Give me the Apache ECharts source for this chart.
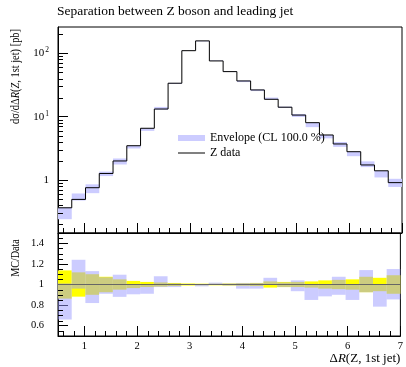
<!DOCTYPE html>
<html>
<head>
<meta charset="utf-8">
<script src="https://cdn.jsdelivr.net/npm/echarts@6/dist/echarts.min.js"></script>
<style>
  html, body { margin: 0; padding: 0; background: #fff; }
  #main { width: 406px; height: 367px; }
</style>
</head>
<body>
<div id="main"></div>
<script>
// bin edges of dR(Z, 1st jet)
const edges = [0.5, 0.76, 1.02, 1.28, 1.54, 1.8, 2.06, 2.32, 2.58, 2.84, 3.1, 3.36, 3.62,
  3.88, 4.14, 4.4, 4.66, 4.92, 5.18, 5.44, 5.7, 5.96, 6.22, 6.48, 6.74, 7.0];
// Z data, d sigma / d dR [pb]
const zData = [0.365, 0.495, 0.757, 1.27, 2.0, 3.48, 6.56, 13.2, 33.7, 110, 157, 75.8, 51.4,
  36.6, 26.4, 18.8, 14.1, 10.6, 8.04, 5.14, 3.71, 2.80, 1.73, 1.40, 0.91];
// relative data uncertainty (yellow band half width)
const dataErr = [0.137, 0.118, 0.10, 0.075, 0.05, 0.035, 0.025, 0.02, 0.015, 0.01, 0.008, 0.008, 0.01,
  0.012, 0.015, 0.03, 0.025, 0.025, 0.03, 0.04, 0.045, 0.05, 0.075, 0.065, 0.09];
// envelope / data
const envLo = [0.66, 0.96, 0.82, 0.91, 0.88, 0.905, 0.91, 0.975, 0.975, 0.995, 0.982, 1.0, 0.99,
  0.96, 0.96, 0.995, 0.975, 0.935, 0.85, 0.885, 0.90, 0.85, 0.925, 0.785, 0.855];
const envHi = [1.01, 1.24, 1.13, 1.07, 1.095, 1.005, 1.0, 1.08, 1.01, 1.005, 1.0, 1.018, 1.01,
  1.015, 1.015, 1.065, 1.02, 1.04, 1.0, 1.0, 1.075, 1.0, 1.14, 1.0, 1.15];

// minor tick positions
const xMinor = [0.6, 0.8, 1.2, 1.4, 1.6, 1.8, 2.2, 2.4, 2.6, 2.8, 3.2, 3.4, 3.6, 3.8,
  4.2, 4.4, 4.6, 4.8, 5.2, 5.4, 5.6, 5.8, 6.2, 6.4, 6.6, 6.8];
const logMinor = [0.2, 0.3, 0.4, 0.5, 0.6, 0.7, 0.8, 0.9, 2, 3, 4, 5, 6, 7, 8, 9,
  20, 30, 40, 50, 60, 70, 80, 90, 200];
const ratioMinor = [0.55, 0.65, 0.7, 0.75, 0.85, 0.9, 0.95, 1.05, 1.1, 1.15, 1.25, 1.3, 1.35, 1.45];

const font = 'Liberation Serif';

const chart = echarts.init(document.getElementById('main'), null, { renderer: 'canvas' });

const zLine = edges.map((e, i) => [e, zData[Math.min(i, zData.length - 1)]]);
const envTop = zData.map((v, i) => [edges[i], edges[i + 1], v * envLo[i], v * envHi[i]]);
const envRatio = zData.map((v, i) => [edges[i], edges[i + 1], envLo[i], envHi[i]]);
const errBand = dataErr.map((e, i) => [edges[i], edges[i + 1], 1 - e, 1 + e]);

function binRect(params, api) {
  const a = api.coord([api.value(0), api.value(3)]);
  const b = api.coord([api.value(1), api.value(2)]);
  return {
    type: 'rect',
    shape: { x: a[0], y: a[1], width: b[0] - a[0], height: b[1] - a[1] },
    style: api.style()
  };
}

function xTick(params, api) {
  const p = api.coord([api.value(0), api.value(1)]);
  const cs = params.coordSys;
  const x = Math.round(p[0]) + 0.5;
  const yb = cs.y + cs.height;
  return { type: 'line', shape: { x1: x, y1: yb, x2: x, y2: yb - 5 }, style: { stroke: '#000', lineWidth: 1 } };
}

function yTick(params, api) {
  const p = api.coord([api.value(0), api.value(1)]);
  const cs = params.coordSys;
  const y = Math.round(p[1]) + 0.5;
  return { type: 'line', shape: { x1: cs.x, y1: y, x2: cs.x + 5, y2: y }, style: { stroke: '#000', lineWidth: 1 } };
}

function isDecade(v) {
  const l = Math.log10(v);
  return Math.abs(l - Math.round(l)) < 1e-6;
}

const tickStyle = { inside: true, length: 10, lineStyle: { color: '#000', width: 1 } };

const option = {
  animation: false,
  backgroundColor: '#fff',
  title: {
    text: 'Separation between Z boson and leading jet',
    left: 52,
    top: -1,
    textStyle: { fontFamily: font, fontSize: 13.5, fontWeight: 'normal', color: '#000' }
  },
  legend: {
    orient: 'vertical',
    left: 173,
    top: 126,
    itemWidth: 27,
    itemHeight: 6,
    itemGap: 1,
    textStyle: { fontFamily: font, fontSize: 12, color: '#000', lineHeight: 14 },
    data: [
      { name: 'Envelope (CL 100.0 %)', icon: 'rect' },
      { name: 'Z data', icon: 'path://M0,0H270V10H0Z' }
    ]
  },
  grid: [
    { left: 58, top: 27, width: 344, height: 206, show: true, borderColor: '#000', borderWidth: 1, backgroundColor: 'transparent' },
    { left: 58, top: 233, width: 344, height: 103, show: true, borderColor: '#000', borderWidth: 1, backgroundColor: 'transparent' }
  ],
  xAxis: [
    {
      gridIndex: 0, type: 'value', min: 0.5, max: 7, splitNumber: 6,
      axisLine: { lineStyle: { color: '#000' } },
      axisTick: tickStyle,
      axisLabel: { show: false },
      splitLine: { show: false }
    },
    {
      gridIndex: 1, type: 'value', min: 0.5, max: 7, splitNumber: 6,
      axisLine: { lineStyle: { color: '#000' } },
      axisTick: tickStyle,
      axisLabel: { fontFamily: font, fontSize: 10.5, color: '#000', margin: 5, showMinLabel: false, showMaxLabel: true },
      splitLine: { show: false },
      name: '{d|Δ}{i|R}{d|(Z, 1st jet)}',
      nameLocation: 'end',
      nameGap: 0,
      nameTextStyle: {
        align: 'right', verticalAlign: 'top', padding: [16, 0, 0, 0],
        rich: {
          d: { fontFamily: font, fontSize: 13, color: '#000' },
          i: { fontFamily: font, fontSize: 13, color: '#000', fontStyle: 'italic' }
        }
      }
    }
  ],
  yAxis: [
    {
      gridIndex: 0, type: 'log', logBase: 10, min: 0.146, max: 260,
      axisLine: { lineStyle: { color: '#000' } },
      axisTick: tickStyle,
      splitLine: { show: false },
      axisLabel: {
        margin: 9,
        showMinLabel: false,
        showMaxLabel: false,
        formatter: function (v) {
          if (!isDecade(v)) return '';
          const k = Math.round(Math.log10(v));
          if (k === 0) return '{n|1}';
          return '{n|10}{s|' + k + '}';
        },
        rich: {
          n: { fontFamily: font, fontSize: 11, color: '#000' },
          s: { fontFamily: font, fontSize: 7.5, color: '#000', verticalAlign: 'bottom', padding: [0, 0, 6, 1] }
        }
      }
    },
    {
      gridIndex: 1, type: 'value', min: 0.5, max: 1.5, splitNumber: 5,
      axisLine: { lineStyle: { color: '#000' } },
      axisTick: tickStyle,
      splitLine: { show: false },
      axisLabel: {
        fontFamily: font, fontSize: 10.5, color: '#000', margin: 14,
        showMinLabel: false, showMaxLabel: false,
        formatter: function (v) {
          if (Math.abs(v - 0.5) < 1e-6 || Math.abs(v - 1.5) < 1e-6) return '';
          return Math.abs(v - 1) < 1e-6 ? '1' : v.toFixed(1);
        }
      }
    }
  ],
  graphic: [
    {
      type: 'text', x: 16, y: 29, rotation: Math.PI / 2, scaleX: 0.8,
      style: {
        text: '{n|dσ/dΔ}{i|R}{n|(}{i|Z}{n|, 1st jet) [pb]}',
        align: 'right', verticalAlign: 'middle',
        rich: {
          n: { fontFamily: font, fontSize: 13, fill: '#000' },
          i: { fontFamily: font, fontSize: 13, fill: '#000', fontStyle: 'italic' }
        }
      }
    },
    {
      type: 'text', x: 16, y: 258, rotation: Math.PI / 2, scaleX: 0.78,
      style: {
        text: 'MC/Data', align: 'center', verticalAlign: 'middle',
        font: '13px "Liberation Serif"', fill: '#000'
      }
    }
  ],
  series: [
    {
      name: 'Envelope (CL 100.0 %)',
      type: 'custom',
      xAxisIndex: 0, yAxisIndex: 0,
      renderItem: binRect,
      itemStyle: { color: '#ccccff' },
      data: envTop,
      z: 1
    },
    {
      name: 'Z data',
      type: 'line',
      xAxisIndex: 0, yAxisIndex: 0,
      step: 'end',
      symbol: 'none',
      lineStyle: { color: '#000', width: 1 },
      itemStyle: { color: '#000' },
      data: zLine,
      z: 3
    },
    {
      name: 'data err',
      type: 'custom',
      xAxisIndex: 1, yAxisIndex: 1,
      renderItem: binRect,
      itemStyle: { color: '#ffff00' },
      data: errBand,
      z: 1
    },
    {
      name: 'envelope ratio',
      type: 'custom',
      xAxisIndex: 1, yAxisIndex: 1,
      renderItem: binRect,
      itemStyle: { color: 'rgba(153,153,255,0.5)' },
      data: envRatio,
      z: 2
    },
    {
      name: 'data ratio',
      type: 'line',
      xAxisIndex: 1, yAxisIndex: 1,
      symbol: 'none',
      lineStyle: { color: '#666', width: 1.2 },
      data: [[0.5, 1], [7, 1]],
      z: 3
    },
    {
      name: 'xminor0', type: 'custom', xAxisIndex: 0, yAxisIndex: 0, renderItem: xTick, silent: true, z: 5,
      data: xMinor.map(v => [v, 1])
    },
    {
      name: 'yminor0', type: 'custom', xAxisIndex: 0, yAxisIndex: 0, renderItem: yTick, silent: true, z: 5,
      data: logMinor.map(v => [0.5, v])
    },
    {
      name: 'xminor1', type: 'custom', xAxisIndex: 1, yAxisIndex: 1, renderItem: xTick, silent: true, z: 5,
      data: xMinor.map(v => [v, 1])
    },
    {
      name: 'yminor1', type: 'custom', xAxisIndex: 1, yAxisIndex: 1, renderItem: yTick, silent: true, z: 5,
      data: ratioMinor.map(v => [0.5, v])
    }
  ]
};

chart.setOption(option);
</script>
</body>
</html>
